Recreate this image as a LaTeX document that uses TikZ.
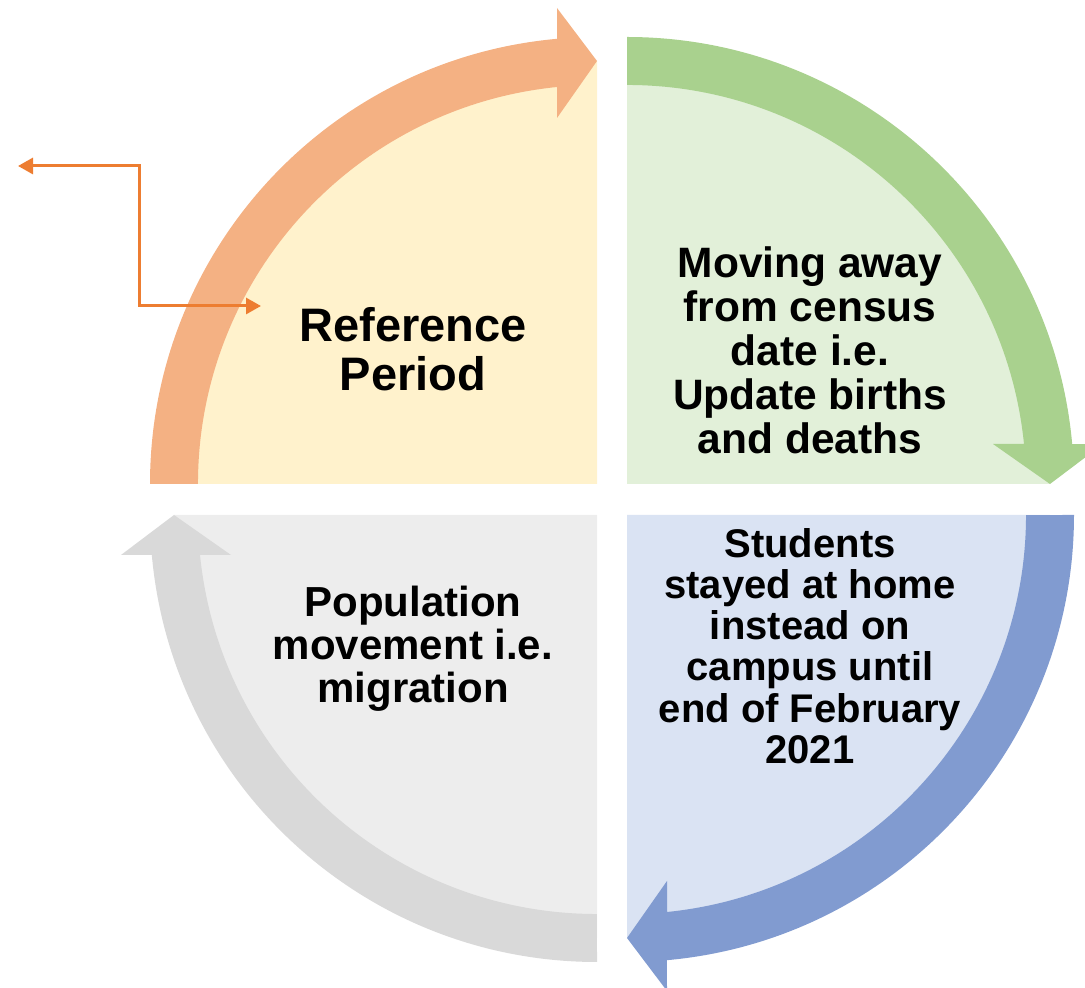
\documentclass[tikz,border=0pt]{standalone}
\usepackage{fontspec}
\setmainfont{Liberation Sans}
\usetikzlibrary{arrows.meta}
\definecolor{orgband}{HTML}{F4B183}
\definecolor{orgfill}{HTML}{FFF2CC}
\definecolor{grnband}{HTML}{A9D18E}
\definecolor{grnfill}{HTML}{E2F0D9}
\definecolor{bluband}{HTML}{819BD0}
\definecolor{blufill}{HTML}{DAE3F3}
\definecolor{gryband}{HTML}{D9D9D9}
\definecolor{gryfill}{HTML}{EDEDED}
\definecolor{connorange}{HTML}{ED7D31}
\newcommand\quartersector[1]{%
  \fill[#1] (0,0) -- (180:423) arc[start angle=180,end angle=90,radius=423] -- cycle;}
\newcommand\quarterband[1]{%
  \fill[#1] (180:447) arc[start angle=180,end angle=95.13,radius=447]
    -- (-40,476) -- (0,423) -- (-40,366) -- (-40,397)
    arc[start angle=95.75,end angle=180,radius=399] -- cycle;}
\begin{document}
\begin{tikzpicture}[x=1pt,y=1pt,
  lbl/.style={font=\bfseries, align=center, inner sep=0pt, text=black},
  conn/.style={draw=connorange, line width=3pt,
    {Triangle[length=15pt,width=16pt]}-{Triangle[length=15pt,width=16pt]}}]
\useasboundingbox (0,0) rectangle (1085,988);
\clip (0,0) rectangle (1085,988);
% quarters
\begin{scope}[shift={(597,504)}]
  \quartersector{orgfill}\quarterband{orgband}
\end{scope}
\begin{scope}[shift={(627,504)},rotate=-90]
  \quartersector{grnfill}\quarterband{grnband}
\end{scope}
\begin{scope}[shift={(627,473)},rotate=-180]
  \quartersector{blufill}\quarterband{bluband}
\end{scope}
\begin{scope}[shift={(597,473)},rotate=90]
  \quartersector{gryfill}\quarterband{gryband}
\end{scope}
% labels
\node[lbl, font=\fontsize{47}{49}\selectfont\bfseries] (ref) at (413,639) {Reference\\Period};
\node[lbl, font=\fontsize{42.5}{44}\selectfont\bfseries] (mov) at (810,638) {Moving away\\from census\\date i.e.\\Update births\\and deaths};
\node[lbl, font=\fontsize{40}{41.3}\selectfont\bfseries] (stu) at (810,342) {Students\\stayed at home\\instead on\\campus until\\end of February\\2021};
\node[lbl, font=\fontsize{42}{43}\selectfont\bfseries] (pop) at (413,339) {Population\\movement i.e.\\migration};
% elbow connector
\coordinate (lt) at (18,822);
\coordinate (c1) at (139,822);
\coordinate (c2) at (139,682);
\coordinate (rt) at (261,682);
\draw[conn] (lt) -- (c1) -- (c2) -- (rt);
\end{tikzpicture}
\end{document}
